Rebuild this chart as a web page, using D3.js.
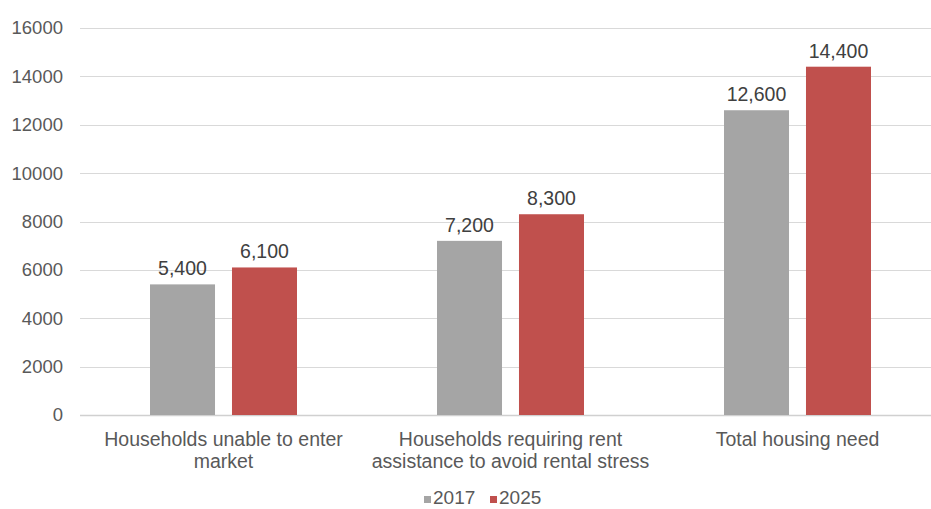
<!DOCTYPE html>
<html>
<head>
<meta charset="utf-8">
<script src="https://cdn.jsdelivr.net/npm/d3@7"></script>
<style>
  html, body { margin: 0; padding: 0; background: #fff; }
  svg { display: block; font-family: "Liberation Sans", Arial, sans-serif; }
</style>
</head>
<body>
<svg id="chart" width="931" height="509"></svg>
<script>
// Housing need estimates by category
const categories = [
  ["Households unable to enter", "market"],
  ["Households requiring rent", "assistance to avoid rental stress"],
  ["Total housing need"]
];
const seriesNames = ["2017", "2025"];
const values2017 = [5400, 7200, 12600];
const values2025 = [6100, 8300, 14400];
const yTicks = [0, 2000, 4000, 6000, 8000, 10000, 12000, 14000, 16000];
const colors = ["#a5a5a5", "#c0504d"];

const svg = d3.select("#chart");
const W = 931, H = 509;
const plot = { left: 80, right: 941, top: 28, bottom: 415 };

const x = d3.scaleBand()
  .domain(d3.range(categories.length))
  .range([plot.left, plot.right])
  .paddingInner(0).paddingOuter(0);

const xInner = d3.scaleBand()
  .domain(seriesNames)
  .range([70, x.bandwidth() - 70])
  .paddingInner(0.207);

const y = d3.scaleLinear().domain([0, 16000]).range([plot.bottom, plot.top]);

// Gridlines
svg.append("g")
  .selectAll("line")
  .data(yTicks)
  .join("line")
  .attr("x1", plot.left)
  .attr("x2", W)
  .attr("y1", d => Math.round(y(d)) + 0.5)
  .attr("y2", d => Math.round(y(d)) + 0.5)
  .attr("stroke", d => d === 0 ? "#d0d0d0" : "#d9d9d9")
  .attr("stroke-width", d => d === 0 ? 1.5 : 1);

// Y axis labels
const yAxis = d3.axisLeft(y).tickValues(yTicks).tickSize(0).tickPadding(0).tickFormat(d3.format("d"));
const yg = svg.append("g").attr("transform", "translate(63,0)").call(yAxis);
yg.select(".domain").remove();
yg.selectAll("text")
  .attr("fill", "#595959")
  .style("font-size", "18.5px")
  .style("font-family", "'Liberation Sans', Arial, sans-serif");

// Bars
const series = [values2017, values2025];
const groups = svg.append("g")
  .selectAll("g")
  .data(categories.map((c, i) => i))
  .join("g")
  .attr("transform", i => `translate(${x(i)},0)`);

groups.selectAll("rect")
  .data(i => seriesNames.map((s, k) => ({ s, v: series[k][i], k })))
  .join("rect")
  .attr("x", d => xInner(d.s))
  .attr("width", xInner.bandwidth())
  .attr("y", d => y(d.v))
  .attr("height", d => y(0) - y(d.v))
  .attr("fill", d => colors[d.k]);

// Value labels
const fmt = d3.format(",");
groups.selectAll("text.val")
  .data(i => seriesNames.map((s, k) => ({ s, v: series[k][i], k })))
  .join("text")
  .attr("class", "val")
  .attr("x", d => xInner(d.s) + xInner.bandwidth() / 2)
  .attr("y", d => y(d.v) - 9)
  .attr("text-anchor", "middle")
  .attr("fill", "#404040")
  .style("font-size", "19.5px")
  .text(d => fmt(d.v));

// Category labels
const catLabels = svg.append("g")
  .selectAll("text")
  .data(categories.map((c, i) => ({ c, i })))
  .join("text")
  .attr("x", d => x(d.i) + x.bandwidth() / 2)
  .attr("y", 446)
  .attr("text-anchor", "middle")
  .attr("fill", "#595959")
  .style("font-size", "19.5px");
catLabels.selectAll("tspan")
  .data(d => d.c.map((line, j) => ({ line, j, cx: x(d.i) + x.bandwidth() / 2 })))
  .join("tspan")
  .attr("x", d => d.cx)
  .attr("dy", d => d.j === 0 ? 0 : 22)
  .text(d => d.line);

// Legend
const legend = svg.append("g").attr("transform", "translate(424,504)");
const legendItems = legend.selectAll("g")
  .data(seriesNames)
  .join("g")
  .attr("transform", (d, k) => `translate(${k * 66},0)`);
legendItems.append("rect")
  .attr("x", 0).attr("y", -8)
  .attr("width", 7).attr("height", 7)
  .attr("fill", (d, k) => colors[k]);
legendItems.append("text")
  .attr("x", 9).attr("y", 0)
  .attr("fill", "#595959")
  .style("font-size", "19px")
  .text(d => d);
</script>
</body>
</html>
